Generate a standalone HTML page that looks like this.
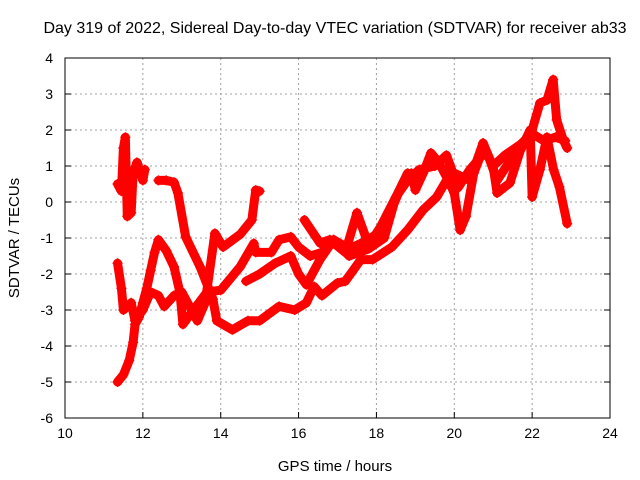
<!DOCTYPE html>
<html><head><meta charset="utf-8"><style>
body{margin:0;background:#fff}
svg{display:block;font-family:"Liberation Sans",sans-serif}
</style></head><body>
<svg id="c" width="640" height="480">
<text x="335" y="33" text-anchor="middle" font-size="16">Day 319 of 2022, Sidereal Day-to-day VTEC variation (SDTVAR) for receiver ab33</text>
<text x="335" y="471" text-anchor="middle" font-size="15">GPS time / hours</text>
<text transform="translate(19,238) rotate(-90)" text-anchor="middle" font-size="15">SDTVAR / TECUs</text>
<g id="grid"></g><g id="series"></g><g id="axes"></g>
</svg>
<script>
const xTicks=[10,12,14,16,18,20,22,24];
const yTicks=[-6,-5,-4,-3,-2,-1,0,1,2,3,4];
const track1=[[11.35,0.5],[11.45,0.3],[11.5,1.5],[11.55,1.8],[11.6,-0.4],[11.7,-0.3],[11.75,0.8],[11.85,1.1],[12.0,0.6],[12.05,0.9]];
const track2=[[11.35,-5.0],[11.5,-4.8],[11.65,-4.4],[11.75,-3.9],[11.8,-3.4],[11.9,-3.2],[12.0,-2.8],[12.1,-2.4],[12.2,-1.9],[12.3,-1.4],[12.4,-1.05],[12.6,-1.35],[12.8,-1.8],[12.95,-2.5],[13.03,-3.4],[13.3,-3.0],[13.65,-2.5],[14.0,-2.45],[14.5,-1.8],[14.85,-1.15],[14.9,-1.4],[15.3,-1.4],[15.5,-1.05],[15.8,-0.97],[16.0,-1.25],[16.3,-1.5],[16.6,-1.4],[16.9,-1.05],[17.3,-1.3],[17.7,-1.1],[18.0,-0.9],[18.35,-0.3],[18.6,0.33],[18.9,0.8],[19.0,0.33],[19.2,0.8],[19.4,1.36],[19.6,1.1],[19.8,0.7],[20.0,0.25],[20.15,-0.78],[20.3,-0.4],[20.5,0.8],[20.75,1.5],[20.9,1.2],[21.1,0.6],[21.5,1.25],[21.85,1.7],[22.0,2.0],[22.2,2.75],[22.38,2.83],[22.54,3.4],[22.63,2.28],[22.8,1.72],[22.9,1.5]];
const track3=[[12.4,0.6],[12.6,0.6],[12.8,0.55],[12.9,0.25],[13.1,-0.97],[13.47,-1.8],[13.8,-2.7],[13.9,-3.3],[14.3,-3.55],[14.7,-3.3],[15.0,-3.3],[15.5,-2.9],[15.9,-3.0],[16.2,-2.8],[16.4,-2.35],[16.6,-2.6],[17.0,-2.25],[17.2,-2.2],[17.6,-1.6],[17.9,-1.6],[18.4,-1.25],[18.8,-0.78],[19.2,-0.22],[19.55,0.14],[19.8,0.6],[20.0,0.8],[20.4,0.6],[20.74,1.64],[21.0,0.97],[21.1,0.25],[21.43,0.53],[21.7,1.44],[21.95,2.0],[22.0,0.14],[22.2,0.9],[22.38,1.8],[22.55,0.9],[22.7,0.42],[22.9,-0.6]];
const track4=[[11.35,-1.7],[11.45,-2.4],[11.5,-3.0],[11.7,-2.8],[11.8,-3.3],[12.0,-3.0],[12.2,-2.5],[12.4,-2.6],[12.55,-2.9],[12.8,-2.6],[13.0,-2.5],[13.2,-2.9],[13.4,-3.3],[13.6,-2.8],[13.85,-0.87],[14.06,-1.25],[14.5,-0.9],[14.8,-0.5],[14.9,0.33],[15.0,0.3]];
const track5=[[14.65,-2.2],[15.0,-2.0],[15.4,-1.7],[15.8,-1.5],[16.0,-2.0],[16.2,-2.3],[16.55,-1.6],[16.9,-1.05],[17.3,-1.5],[17.8,-1.3],[18.2,-1.0],[18.5,0.14],[18.8,0.8]];
const track6=[[16.15,-0.5],[16.55,-1.14],[16.8,-1.05],[17.2,-1.4],[17.5,-0.3],[17.8,-1.2],[18.1,-0.7],[18.5,0.14],[18.8,0.6],[19.1,0.9],[19.5,1.0],[19.8,1.3],[20.1,0.4],[20.4,0.9],[20.8,1.4],[21.0,1.0],[21.3,1.3],[21.7,1.6],[22.0,1.9],[22.3,1.7],[22.6,1.8],[22.85,1.7]];
const series=[track1,track2,track3,track4,track5,track6];
const L=65,R=610,T=58,B=418;
const xs=t=>L+(t-10)*(R-L)/14;
const ys=v=>T+(4-v)*(B-T)/10;
const NS='http://www.w3.org/2000/svg';
function mk(tag,attrs,parent){const e=document.createElementNS(NS,tag);for(const k in attrs)e.setAttribute(k,attrs[k]);parent.appendChild(e);return e;}
const grid=document.getElementById('grid'),axes=document.getElementById('axes'),sg=document.getElementById('series');
xTicks.forEach(t=>{
 if(t>10&&t<24){const g=mk('line',{x1:xs(t),x2:xs(t),y1:T,y2:B,stroke:'#a0a0a0','stroke-dasharray':'2,3'},grid);
 
 }
 const tk=mk('line',{x1:xs(t),x2:xs(t),y1:B,y2:B-6,stroke:'#000'},axes);
 
 
 const tx=mk('text',{x:xs(t),y:B+20,'text-anchor':'middle','font-size':14},axes);tx.textContent=t;
 
 
});
yTicks.forEach(v=>{
 if(v>-6&&v<4){const g=mk('line',{x1:L,x2:R,y1:ys(v),y2:ys(v),stroke:'#a0a0a0','stroke-dasharray':'2,3'},grid);
 
 }
 const tk=mk('line',{x1:L,x2:L+6,y1:ys(v),y2:ys(v),stroke:'#000'},axes);
 
 
 const tk2=mk('line',{x1:R,x2:R-6,y1:ys(v),y2:ys(v),stroke:'#000'},axes);
 
 
 const tx=mk('text',{x:L-12,y:ys(v)+5,'text-anchor':'end','font-size':14},axes);tx.textContent=v;
 
 
});
const fr=mk('rect',{x:L,y:T,width:R-L,height:B-T,fill:'none',stroke:'#000'},axes);


series.forEach((s,i)=>{
 const pl=mk('polyline',{points:s.map(p=>xs(p[0])+','+ys(p[1])).join(' '),fill:'none',stroke:'#f00','stroke-width':9,'stroke-linejoin':'round','stroke-linecap':'round'},sg);
 
 
 s.forEach(p=>{
  const x=xs(p[0]),y=ys(p[1]);
  const m=mk('path',{d:`M${x-5},${y}H${x+5}M${x},${y-5}V${y+5}`,stroke:'#f00','stroke-width':1.5},sg);
  
  
 });
});
</script>
</body></html>
